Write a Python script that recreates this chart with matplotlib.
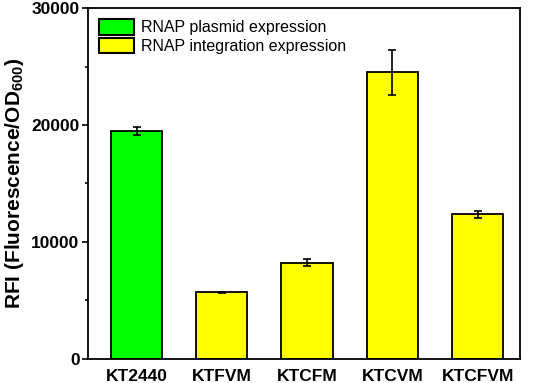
import matplotlib
matplotlib.use('Agg')
import matplotlib.pyplot as plt
from matplotlib.patches import Patch
from matplotlib.ticker import MultipleLocator

plt.rcParams['font.family'] = ['Liberation Sans', 'DejaVu Sans']
plt.rcParams['mathtext.fontset'] = 'custom'
plt.rcParams['mathtext.rm'] = 'Liberation Sans:bold'
plt.rcParams['mathtext.it'] = 'Liberation Sans:bold'
plt.rcParams['mathtext.bf'] = 'Liberation Sans:bold'

# 데이터
strains = ['KT2440', 'KTFVM', 'KTCFM', 'KTCVM', 'KTCFVM']
rfi = [19500, 5700, 8230, 24500, 12350]
rfi_err = [320, 40, 300, 1950, 330]
bar_colors = ['#00FF00', '#FFFF00', '#FFFF00', '#FFFF00', '#FFFF00']
legend_labels = ['RNAP plasmid expression', 'RNAP integration expression']

fig = plt.figure(figsize=(5.33, 3.83), dpi=100)
ax = fig.add_axes([0.165, 0.063, 0.811, 0.916])

x = range(len(strains))
ax.bar(x, rfi, width=0.6, color=bar_colors, edgecolor='black', linewidth=1.3,
       zorder=2)
ax.errorbar(x, rfi, yerr=rfi_err, fmt='none', ecolor='black', elinewidth=1.2,
            capsize=3, capthick=1.2, zorder=3)

ax.set_xlim(-0.57, 4.5)
ax.set_ylim(0, 30000)
ax.set_xticks(list(x))
ax.set_xticklabels(strains, fontsize=12.5, fontweight='bold')
ax.yaxis.set_major_locator(MultipleLocator(10000))
ax.yaxis.set_minor_locator(MultipleLocator(5000))
for lab in ax.get_yticklabels():
    lab.set_fontsize(12.5)
    lab.set_fontweight('bold')
ax.tick_params(axis='x', length=0, pad=7)
ax.tick_params(axis='y', which='major', length=4, width=1.2, pad=2)
ax.tick_params(axis='y', which='minor', length=2.5, width=1.2)
for sp in ax.spines.values():
    sp.set_linewidth(1.3)

ax.set_ylabel(r'RFI (Fluorescence/OD$_{600}$)', fontsize=15,
              fontweight='bold', labelpad=4)

handles = [Patch(facecolor='#00FF00', edgecolor='black', linewidth=1.5),
           Patch(facecolor='#FFFF00', edgecolor='black', linewidth=1.5)]
ax.legend(handles, legend_labels, loc='upper left', frameon=False,
          fontsize=11.5, handlelength=2.2, handleheight=1.1,
          labelspacing=0.15, handletextpad=0.4, borderaxespad=0.3,
          bbox_to_anchor=(0.0, 1.0))

fig.savefig('out.png', dpi=100)
